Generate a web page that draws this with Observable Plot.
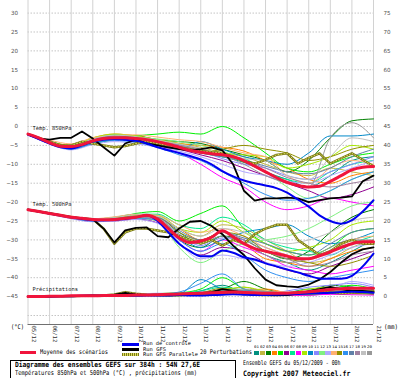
<!DOCTYPE html>
<html><head><meta charset="utf-8">
<script src="https://cdn.jsdelivr.net/npm/d3@7"></script>
<script src="https://cdn.jsdelivr.net/npm/@observablehq/plot@0.6"></script>
<style>
html,body{margin:0;padding:0;background:#fff;}
body{width:400px;height:378px;overflow:hidden;position:relative;font-family:"DejaVu Sans Mono",monospace;color:#000;}
#chart{position:absolute;left:0;top:0;}
.abs{position:absolute;white-space:nowrap;line-height:1;}
.bar{position:absolute;}
</style></head><body>
<div id="chart"></div>
<script>
// ---------- axes / labels ----------
const days = [0,1,2,3,4,5,6,7,8,9,10,11,12,13,14,15,16];
const dateLabels = ["05/12","06/12","07/12","08/12","09/12","10/12","11/12","12/12","13/12","14/12","15/12","16/12","17/12","18/12","19/12","20/12","21/12"];
const yTicks = [-45,-40,-35,-30,-25,-20,-15,-10,-5,0,5,10,15,20,25,30];
const gridY = [-50,-45,-40,-35,-30,-25,-20,-15,-10,-5,0,5,10,15,20,25,30];
const precipOffset = 45; // right axis (mm) = left axis + 45
const panelLabels = ["Temp. 850hPa","Temp. 500hPa","Précipitations"];
const panelLevels = [-0.4,-20.6,-43.1];

// ---------- deterministic runs, 12 h steps (33 values) ----------
const mean850 = [-2,-3,-4.3,-5.2,-5.3,-4.8,-3.8,-3.2,-3,-3,-3.2,-3.5,-4,-4.7,-5.5,-6.3,-6.8,-7.2,-7.5,-8,-9,-10.5,-12,-13.5,-14.8,-15.6,-16,-15.8,-14.5,-13,-11.5,-10.8,-10.6];
const control850 = [-2.2,-3.3,-4.5,-5.5,-5.8,-5,-4,-3.5,-3.3,-3.5,-3.8,-4.5,-5.5,-6.3,-7,-7.8,-8.7,-10,-11.8,-13.2,-14.3,-15,-15.6,-16.3,-17.5,-19.3,-21.2,-23.5,-25,-25.7,-24.8,-22.5,-19.5];
const gfs850 = [-2,-3.2,-3.5,-3,-3,-1.3,-3.2,-5.5,-7.7,-4.5,-3.5,-4.5,-5,-5.5,-6,-6.3,-6,-5.5,-6.3,-10,-17,-19.6,-19,-19,-18.8,-19,-20,-19.5,-19,-18.8,-18.5,-14.5,-13];
const par850 = [-2,-3,-4,-5,-5,-4,-4.5,-5,-5.5,-5.2,-4.5,-4,-4.5,-5,-5.5,-6,-6.5,-6.8,-7,-8,-9.2,-9.8,-8.8,-7.5,-7.1,-9.8,-8.3,-7.1,-9.8,-8.4,-7.1,-8.8,-10.5];

const mean500 = [-22,-22.5,-23,-23.5,-24,-24.3,-24.6,-24.7,-24.6,-24.3,-24,-23.5,-24.5,-27,-29.5,-30.7,-30.3,-29.3,-27.6,-29.2,-31,-32.3,-33,-33.6,-34.3,-35,-35,-34.2,-33.2,-32,-31,-30.5,-30.5];
const control500 = [-22,-22.5,-23,-23.5,-24,-24.5,-24.8,-24.8,-24.7,-24.5,-24,-23.5,-25,-28,-31,-33,-34.3,-34.3,-32.8,-33.4,-34.6,-35.2,-36.2,-37,-37.8,-38.6,-39.5,-40.2,-40.3,-40.3,-39.5,-37,-33.6];
const gfs500 = [-22,-22.5,-23,-23.5,-24,-24.3,-24.5,-27,-30.7,-27.5,-26.8,-26.7,-29,-29.3,-27,-25.2,-25,-26.3,-28.5,-31.5,-34,-37.5,-40.5,-42,-42.3,-42.5,-41.8,-40.5,-38.5,-36,-33.8,-32.5,-32];
const par500 = [-22,-22.5,-23,-23.5,-24,-24.3,-24.5,-27,-31,-28,-27,-27,-27.5,-28,-29,-30,-31,-30,-31.5,-30,-31,-28.5,-27,-26,-26,-30,-32,-34,-33,-31,-30,-31,-31];

const meanPrcp = [0,0,0.1,0.1,0.2,0.2,0.2,0.3,0.3,0.3,0.4,0.4,0.5,0.6,0.7,0.8,0.9,1,1.1,1.2,1.1,1,0.9,0.9,0.9,1.1,1.3,1.6,1.9,2.1,2.2,2.2,2.2];
const controlPrcp = [0,0,0,0.1,0.1,0.2,0.2,0.3,0.3,0.2,0.2,0.3,0.3,0.3,0.4,0.3,0.3,0.4,0.5,0.6,0.5,0.4,0.4,0.5,0.6,0.7,0.8,0.9,1,1.2,1.3,1.2,1];
const gfsPrcp = [0,0,0,0.1,0.2,0.2,0.3,0.2,0.5,1,0.6,0.4,0.3,0.4,0.5,0.6,0.8,1.2,2,1.5,1,0.6,0.4,0.3,0.4,0.8,1.4,2,2.6,2,1.5,1.5,1.2];
const parPrcp = [0,0,0.1,0.1,0.1,0.2,0.2,0.3,0.6,1.2,0.8,0.5,0.4,0.3,0.4,0.5,0.7,0.9,1.1,0.9,0.7,0.5,0.4,0.5,0.7,0.9,1.1,1.3,1.1,0.9,1,1.2,1.4];

// ---------- 20 perturbations, daily (17 values) ----------
const pertColors = ["#009080","#c0b840","#008000","#ff8000","#00f000","#900090","#00e890","#ff00ff","#a8e800","#0088c8","#8888ff","#80f080","#b0a8ff","#ffb070","#909000","#3090f0","#6080a8","#a080a0","#c0c0c0","#989898"];
const pert850 = [
 [-2,-4.2,-5.5,-3.5,-2.8,-3,-3.8,-5,-6.5,-8,-9.5,-12,-14,-16,-13,-9,-8],
 [-2.1,-4,-5,-3.2,-2.5,-3.5,-4,-4.5,-5.5,-7,-8,-10,-12,-13,-11,-12,-13],
 [-2,-4.5,-5.8,-4,-3,-2.5,-3.5,-4,-4.5,-6,-7.5,-9,-12,-9,-3,1.5,2],
 [-2,-4,-5,-3,-2,-2.5,-3.5,-4.5,-5,-5.5,-6.5,-9,-11,-14,-15,-13,-12],
 [-1.9,-4.3,-6,-4.5,-3.5,-2.5,-2,-1.5,-2,0,-3,-7,-11,-12,-10,-8,-7],
 [-2.2,-4.5,-5.5,-3.8,-3,-3.5,-4.5,-6,-7.5,-9,-11,-13,-15,-17,-19,-18,-16],
 [-2,-3.8,-5.2,-3.3,-2.2,-2.8,-4,-5.5,-7,-8,-8.5,-12,-14,-15,-12,-10,-9],
 [-2,-4.2,-5.5,-3.6,-3.2,-4,-5,-7,-10,-13.5,-16,-20,-22,-21,-19,-20,-21],
 [-2.1,-4,-5,-3,-2,-2.5,-3.5,-4.5,-6,-7,-7.5,-8,-11,-10,-8,-5,-6],
 [-2,-4.5,-6,-4.5,-3.5,-4,-5,-6,-4,-6,-8,-9,-10,-7,-2.5,-2.5,-2],
 [-2,-4,-5.5,-3.8,-3,-3.2,-4,-5,-6.5,-8.5,-10,-11,-13,-14,-12,-10,-8],
 [-2,-4.4,-5.8,-4.2,-3.3,-3,-3.3,-4,-5,-6.5,-9,-12,-16,-19,-17,-14,-12],
 [-2.2,-4.6,-6.2,-4.8,-4,-4.5,-5.5,-6.5,-8,-10,-12,-13,-14.5,-15,-13,-11,-9],
 [-2,-3.6,-4.6,-3,-2.4,-2.2,-2.8,-3.5,-4,-5.5,-7,-8,-13,-15,-11,-9,-10],
 [-2,-4,-5.2,-3.5,-2.5,-3,-4.2,-5.5,-7,-6,-5,-6,-7,-9,-8,-6,-5],
 [-2.1,-4.4,-6,-4.5,-3.7,-4.2,-5.5,-7.5,-9,-12,-15,-18,-19.5,-19,-17,-14,-12],
 [-2,-4.2,-5.4,-3.4,-2.6,-3.2,-4.5,-5.8,-7,-8,-9,-10.5,-12,-12.5,-11,-8,-6],
 [-2,-4.3,-5.7,-3.9,-2.9,-3.1,-3.9,-4.8,-6,-7.5,-9,-11,-13.5,-15,-16,-15,-14],
 [-2.1,-4.1,-5.3,-3.3,-2.3,-2.7,-3.6,-4.6,-5.8,-7.2,-8.5,-9,-13,-14,-8,-3,-4],
 [-2,-4.3,-5.6,-3.7,-2.8,-3.3,-4.3,-5.2,-6.2,-7.6,-10,-13,-15,-16,-3,1,-3]
];
const pert500 = [
 [-22,-23,-24,-24.8,-24.5,-23.8,-24,-28,-31,-29,-31,-34,-36,-38,-36,-33,-30],
 [-22,-22.8,-23.8,-24.6,-24.3,-23.5,-23.5,-27,-29,-26,-27,-30,-33,-36,-35,-32,-30],
 [-22,-23.1,-24.2,-25,-24.8,-24,-24.5,-30,-32,-29,-30,-33,-35,-33,-28,-24,-22],
 [-22,-22.9,-24,-24.9,-24.6,-23.7,-24.2,-27,-30,-28,-31,-35,-36,-37,-35,-33,-32],
 [-22,-23,-24,-24.7,-24.2,-23,-22.5,-25,-23,-21,-27,-31,-33,-34,-32,-28,-27],
 [-22,-23.2,-24.3,-25.1,-25,-24.5,-25.5,-31,-34,-32,-33,-36,-38,-39,-37,-35,-33],
 [-22,-22.8,-23.9,-24.5,-24,-23.2,-23.2,-26,-27,-24,-26,-30,-32,-33,-34,-31,-29],
 [-22,-23,-24.1,-24.9,-24.7,-24,-25,-30,-33,-30,-32,-34,-37,-38,-39,-38,-37],
 [-22,-22.9,-23.9,-24.6,-24.2,-23.4,-23.6,-27,-28,-25,-28,-31,-33,-32,-30,-26,-25],
 [-22,-23.1,-24.2,-25,-24.9,-24.3,-24.7,-29,-32,-30,-28,-27,-26,-29,-31,-30,-28],
 [-22,-23,-24,-24.8,-24.5,-23.9,-24.3,-28.5,-31.5,-29.5,-30,-32,-34,-35,-33,-31,-31],
 [-22,-23.1,-24.2,-25,-24.8,-24.2,-25,-32,-36,-33,-31,-30,-29,-27,-24,-21,-20],
 [-22,-23.2,-24.4,-25.2,-25,-24.6,-25.6,-31,-35,-34,-35,-36,-37,-36,-34,-32,-31],
 [-22,-22.8,-23.7,-24.4,-23.9,-23.2,-23.5,-26,-28,-27,-29,-32,-34,-35,-33,-30,-29],
 [-22,-23,-24,-24.7,-24.4,-23.6,-24,-28,-30,-28,-29,-33,-35,-36,-37,-36,-34],
 [-22,-23.1,-24.2,-25,-24.8,-24.2,-24.8,-30,-33,-31,-34,-38,-40,-41,-40,-39,-38],
 [-22,-23,-24,-24.8,-24.5,-23.8,-24.1,-27.5,-30,-28,-29.5,-31,-33,-34,-31,-28,-27],
 [-22,-23.1,-24.1,-24.9,-24.6,-24,-24.6,-29,-31,-28,-30,-33,-35,-37,-36,-34,-33],
 [-22,-22.9,-23.8,-24.5,-24.1,-23.4,-23.8,-27,-29,-27,-28,-30,-31,-30,-28,-25,-24],
 [-22,-23,-24.1,-24.8,-24.5,-23.9,-24.4,-28.5,-31,-29,-31,-34,-36,-35,-32,-30,-30]
];
const pertPrcp = [
 [0,0,0.2,0.3,0.1,0.4,0.5,0.3,1.5,3,1,0.5,1,2,1.5,1,2],
 [0,0.1,0.3,0.2,0.2,0.3,0.6,0.5,0.8,1.5,2.5,1,0.5,0.8,1.2,2,1.5],
 [0,0,0.1,0.2,0.4,0.2,0.3,0.2,1,2,4,2,1,1.5,3,2.5,1.5],
 [0,0.1,0.2,0.1,0.3,0.5,0.4,0.6,0.5,1,1.5,2,1,0.5,1,1.5,1],
 [0,0,0.2,0.3,0.2,0.4,0.8,1,2,5,2,1,0.5,1,2,3,2],
 [0,0,0.1,0.1,0.2,0.3,0.3,0.5,0.7,1,1.2,0.8,0.5,0.4,0.8,1,0.6],
 [0,0.1,0.1,0.2,0.3,0.2,0.5,0.8,1.5,2.5,1.5,0.6,0.8,1,1.5,1,0.8],
 [0,0,0.3,0.4,0.2,0.3,0.6,0.4,0.6,0.8,1,0.5,0.3,0.4,0.6,0.5,0.4],
 [0,0.1,0.2,0.1,0.1,0.2,0.4,0.5,1,1.8,2.5,1.5,1,2,2.5,1.5,1],
 [0,0,0.1,0.2,0.2,0.3,0.5,0.7,4.5,2,1,0.8,0.6,1,2,1.5,1.2],
 [0,0.1,0.2,0.3,0.2,0.4,0.6,0.5,1.2,1.5,1,0.7,1.5,2.5,3,3.5,2.5],
 [0,0,0.2,0.2,0.3,0.4,0.5,0.6,0.9,1.2,1.8,1.2,0.8,0.6,1,1.3,1],
 [0,0.1,0.3,0.2,0.2,0.6,0.9,0.7,1,1.3,1.5,1,0.9,1.2,2,4,3],
 [0,0,0.1,0.1,0.2,0.2,0.3,0.4,0.6,1,1.3,1.5,1.2,1,0.8,1.2,1.5],
 [0,0.1,0.2,0.3,0.3,0.5,0.4,0.5,1,2.2,1.2,0.8,0.5,0.6,1,0.8,0.7],
 [0,0,0.2,0.2,0.1,0.3,0.6,1.2,3.5,6,2,1,0.8,1.5,2,2.5,1.5],
 [0,0.1,0.1,0.2,0.3,0.4,0.7,0.6,0.8,1.4,1.6,1.3,0.9,0.7,1,1.4,1.1],
 [0,0,0.2,0.3,0.2,0.3,0.4,0.5,0.7,0.9,1.1,0.9,0.7,0.9,1.3,1.8,1.4],
 [0,0.1,0.2,0.2,0.3,0.4,0.5,0.4,0.6,1,1.4,1.1,0.8,0.9,1.8,2.2,1.6],
 [0,0,0.1,0.2,0.2,0.3,0.5,0.6,0.9,1.6,2,1.4,1,1.2,1.6,2,1.5]
];

// ---------- styling of the runs ----------
const meanColor = "#f0143c", controlColor = "#0000f0", gfsColor = "#000000", parColor = "#7a7a18", parDotColor = "#e0e060";

// ---------- build tables ----------
const stepDay12 = 0.5;
function rows12(arr, id, off){ return arr.map((v,i)=>({t:i*stepDay12, v:v+off, id})); }
const pertRows = [];
pertColors.forEach((c,k)=>{
  pert850[k].forEach((v,i)=>pertRows.push({t:days[i], v, id:"a"+k, color:c}));
  pert500[k].forEach((v,i)=>pertRows.push({t:days[i], v, id:"b"+k, color:c}));
  pertPrcp[k].forEach((v,i)=>pertRows.push({t:days[i], v:v-precipOffset, id:"c"+k, color:c}));
});
const meanRows = [...rows12(mean850,"m1",0),...rows12(mean500,"m2",0),...rows12(meanPrcp,"m3",-precipOffset)];
const ctrlRows = [...rows12(control850,"c1",0),...rows12(control500,"c2",0),...rows12(controlPrcp,"c3",-precipOffset)];
const gfsRows = [...rows12(gfs850,"g1",0),...rows12(gfs500,"g2",0),...rows12(gfsPrcp,"g3",-precipOffset)];
const parRows = [...rows12(par850,"p1",0),...rows12(par500,"p2",0),...rows12(parPrcp,"p3",-precipOffset)];

const yDomain = [-52.38, 33.33];
const tickFont = {fontSize:5.6, fill:"#505050"};

const chart = Plot.plot({
  width:400, height:345,
  marginLeft:27.5, marginRight:27, marginTop:0, marginBottom:21,
  x:{domain:[0,16], axis:null},
  y:{domain:yDomain},
  color:{type:"identity"},
  style:{background:"transparent", fontFamily:"DejaVu Sans, sans-serif", overflow:"visible"},
  marks:[
    Plot.ruleY(gridY, {stroke:"#c4c4c4", strokeDasharray:"1.5,1.5"}),
    Plot.ruleX(days, {stroke:"#d2d2d2"}),
    Plot.ruleY([yDomain[0]], {stroke:"#707070"}),
    Plot.axisY({ticks:yTicks, anchor:"left", tickSize:0, tickPadding:10, label:null, ...tickFont}),
    Plot.axisY({ticks:yTicks, anchor:"right", tickSize:0, tickPadding:10, label:null, tickFormat:d=>String(d+precipOffset), ...tickFont}),
    Plot.text(days, {x:d=>d, frameAnchor:"bottom", text:d=>dateLabels[d], rotate:90, textAnchor:"start", dx:3.5, dy:1, fontSize:5.6, fill:"#303030", fontFamily:"DejaVu Sans Mono, monospace"}),
    Plot.line(pertRows, {x:"t", y:"v", z:"id", stroke:"color", strokeWidth:1, curve:"monotone-x"}),
    Plot.line(parRows, {x:"t", y:"v", z:"id", stroke:parColor, strokeWidth:2.4}),
    Plot.line(parRows, {x:"t", y:"v", z:"id", stroke:parDotColor, strokeWidth:1, strokeDasharray:"1,2"}),
    Plot.line(gfsRows, {x:"t", y:"v", z:"id", stroke:gfsColor, strokeWidth:1.8}),
    Plot.line(ctrlRows, {x:"t", y:"v", z:"id", stroke:controlColor, strokeWidth:2, curve:"monotone-x"}),
    Plot.line(meanRows, {x:"t", y:"v", z:"id", stroke:meanColor, strokeWidth:3, curve:"monotone-x"}),
    Plot.text(panelLabels, {x:()=>days[0], y:(d,i)=>panelLevels[i], text:d=>d, textAnchor:"start", dx:4.5, fontSize:5.4, fill:"#202020", fontFamily:"DejaVu Sans Mono, monospace"})
  ]
});
document.getElementById("chart").appendChild(chart);

// ---------- legend & captions (HTML below/over the svg) ----------
function place(txt, left, cy, width, size, bold){
  const el = document.createElement("div");
  el.className = "abs"; el.textContent = txt;
  el.style.fontSize = size+"px"; if(bold) el.style.fontWeight = "bold";
  el.style.left = left+"px"; el.style.top = "0px";
  document.body.appendChild(el);
  const r = el.getBoundingClientRect();
  el.style.top = (cy - r.height/2)+"px";
  el.style.transformOrigin = "0 50%";
  el.style.transform = "scaleX("+(width/r.width)+")";
  return el;
}
function bar(left, top, w, h, bg){
  const el = document.createElement("div"); el.className="bar";
  el.style.left=left+"px"; el.style.top=top+"px"; el.style.width=w+"px"; el.style.height=h+"px";
  el.style.background=bg; document.body.appendChild(el); return el;
}
place("(°C)", 11, 327.5, 13, 6.5, false);
place("(mm)", 383.5, 327.5, 14, 6.5, false);

bar(19.5, 350.5, 16, 3, meanColor);
place("Moyenne des scénarios", 40, 352, 68, 6.4, false);
bar(122, 342.5, 17, 3, controlColor);
bar(122, 348, 17, 3, gfsColor);
const pb = bar(122, 353, 17, 3, parColor);
pb.style.background = "repeating-linear-gradient(90deg,"+parColor+" 0 1px,"+parDotColor+" 1px 2px)";
place("Run de contrôle", 143, 344, 48, 5.1, false);
place("Run GFS", 143, 349.3, 23, 5.1, false);
place("Run GFS Parallele", 143, 354.5, 55, 5.1, false);
place("20 Perturbations", 200, 352.5, 52, 6.4, false);
pertColors.forEach((c,k)=>{
  bar(254 + k*5.95, 351, 5.2, 4, c);
  const lab = String(k+1).padStart(2,"0");
  place(lab, 254.2 + k*5.95, 347.8, 5, 3.6, false);
});
const box = document.createElement("div");
box.style.cssText = "position:absolute;left:10px;top:359.5px;width:226px;height:30px;border:1px solid #000;box-sizing:border-box;";
document.body.appendChild(box);
place("Diagramme des ensembles GEFS sur 384h : 54N 27,6E", 15, 364.8, 185, 7.2, true);
place("Températures 850hPa et 500hPa (°C) , précipitations (mm)", 15, 373.3, 182, 6.6, false);
place("Ensemble GEFS du 05/12/2009 - 00h", 243.3, 363.3, 97.5, 6.6, false);
place("Copyright 2007 Meteociel.fr", 243.3, 373.7, 107.5, 7.4, true);
</script>
</body></html>
